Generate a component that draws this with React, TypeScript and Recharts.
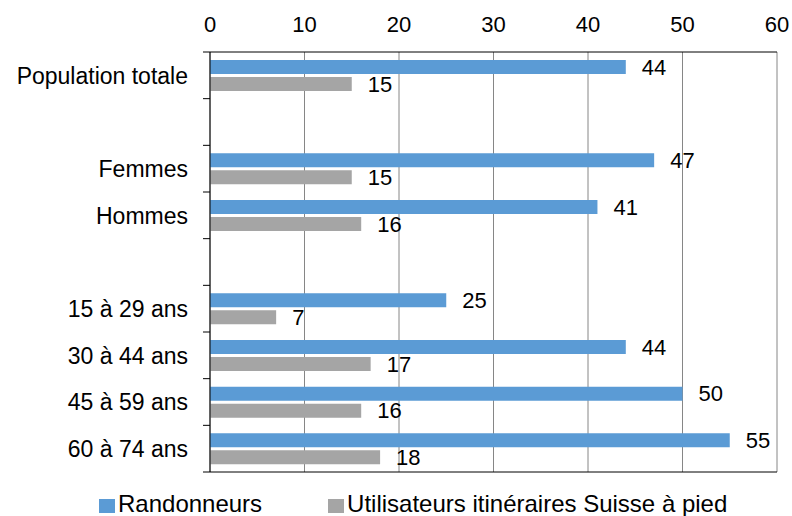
import React from "react"
import { BarChart, Bar, XAxis, YAxis, CartesianGrid, Legend, LabelList } from "recharts"

const categories = ["Population totale", "", "Femmes", "Hommes", "", "15 à 29 ans", "30 à 44 ans", "45 à 59 ans", "60 à 74 ans"]
const randonneurs = [44, null, 47, 41, null, 25, 44, 50, 55]
const utilisateurs = [15, null, 15, 16, null, 7, 17, 16, 18]
const xTicks = [0, 10, 20, 30, 40, 50, 60]

const seriesNames = ["Randonneurs", "Utilisateurs itinéraires Suisse à pied"]
const BLUE = "#5b9bd5"
const GRAY = "#a5a5a5"

const data = categories.map((c, i) => ({ id: `c${i}`, label: c, rando: randonneurs[i], util: utilisateurs[i] }))

const W = 792
const H = 516
const margin = { top: 0, right: 15, bottom: 19, left: 0 }
const plotH = 420
const band = plotH / categories.length

function CategoryTick(props: any) {
  const { x, y, payload, index } = props
  const axisX = x + 22
  const d = data.find((r) => r.id === payload.value)
  return (
    <g>
      <text x={x} y={y} dy="0.36em" textAnchor="end" fontSize={23} fill="#000">{d ? d.label : ""}</text>
      {index === 0 && <line x1={axisX - 7} x2={axisX} y1={y - band / 2} y2={y - band / 2} stroke="#000" />}
      <line x1={axisX - 7} x2={axisX} y1={y + band / 2} y2={y + band / 2} stroke="#000" />
    </g>
  )
}

function LegendContent() {
  const colors = [BLUE, GRAY]
  return (
    <div style={{ display: "flex", alignItems: "center", lineHeight: "24px", fontSize: 24, color: "#000" }}>
      {seriesNames.map((n, i) => (
        <div key={n} style={{ display: "flex", alignItems: "center", marginRight: 66 }}>
          <span style={{ display: "inline-block", width: 16, height: 14, background: colors[i], marginRight: 3, marginTop: 3 }} />
          <span>{n}</span>
        </div>
      ))}
    </div>
  )
}

export default function App() {
  return (
    <div style={{ position: "absolute", left: 0, top: 0, width: W, height: H, background: "#fff", fontFamily: "'Liberation Sans', Arial, sans-serif" }}>
      <BarChart width={W} height={H} data={data} layout="vertical" margin={margin} barSize={14} barGap={3}>
        <CartesianGrid horizontal={false} stroke="#868686" />
        <XAxis type="number" orientation="top" domain={[0, 60]} ticks={xTicks} height={52} tickLine={false} tickSize={6} tickMargin={14} axisLine={{ stroke: "#000" }} tick={{ fontSize: 22, fill: "#000" }} interval={0} />
        <XAxis xAxisId="b" type="number" orientation="bottom" domain={[0, 60]} height={1} tick={false} tickLine={false} axisLine={{ stroke: "#000" }} />
        <YAxis type="category" dataKey="id" width={210} tickLine={false} tickSize={7} tickMargin={15} axisLine={{ stroke: "#000" }} tick={<CategoryTick />} interval={0} />
        <Bar dataKey="rando" name={seriesNames[0]} fill={BLUE} isAnimationActive={false}>
          <LabelList dataKey="rando" position="right" offset={16} fontSize={22} fill="#000" />
        </Bar>
        <Bar dataKey="util" name={seriesNames[1]} fill={GRAY} isAnimationActive={false}>
          <LabelList dataKey="util" position="right" offset={16} fontSize={22} fill="#000" />
        </Bar>
        <Legend verticalAlign="bottom" content={<LegendContent />} wrapperStyle={{ top: 492, bottom: "auto", left: 99, width: 700 }} />
      </BarChart>
    </div>
  )
}
